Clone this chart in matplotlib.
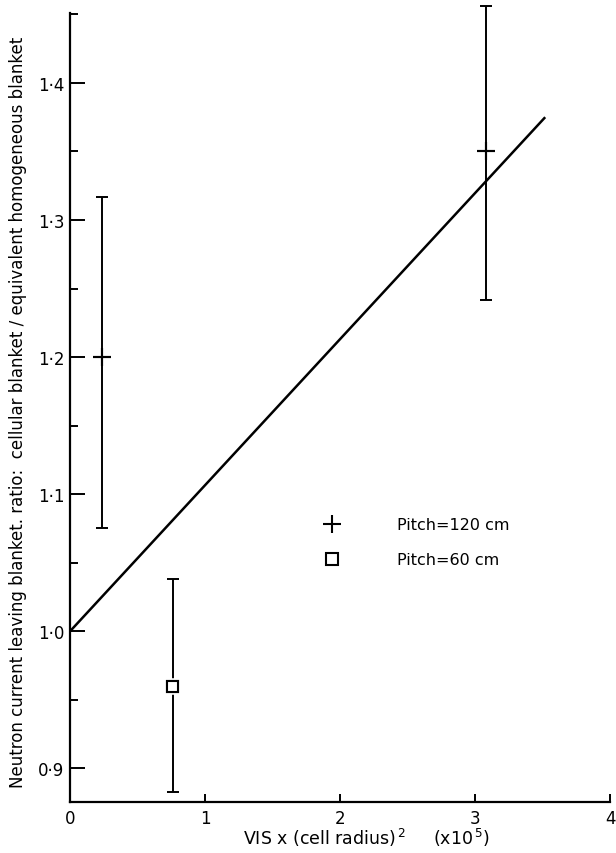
import matplotlib
matplotlib.use("Agg")
import matplotlib.pyplot as plt
import matplotlib.patheffects as pe
from matplotlib.ticker import FixedLocator, FixedFormatter
import numpy as np

# ---- data ----
pitch120_x = [0.24, 3.08]
pitch120_y = [1.200, 1.350]
pitch120_low = [1.075, 1.242]
pitch120_high = [1.317, 1.456]

pitch60_x = [0.76]
pitch60_y = [0.960]
pitch60_low = [0.883]
pitch60_high = [1.038]

fit_x = [0.0, 3.52]
fit_y = [1.000, 1.375]

x_ticks = [0, 1, 2, 3, 4]
x_ticklabels = ["0", "1", "2", "3", "4"]
y_ticks = [0.9, 1.0, 1.1, 1.2, 1.3, 1.4]
y_ticklabels = ["0·9", "1·0", "1·1", "1·2", "1·3", "1·4"]
y_minor = [0.95, 1.05, 1.15, 1.25, 1.35, 1.45]

legend_labels = ["Pitch=120 cm", "Pitch=60 cm"]

ylabel = "Neutron current leaving blanket. ratio:  cellular blanket / equivalent homogeneous blanket"
xlabel = r"VIS x (cell radius)$^{\,2}$     (x10$^{\,5}$)"

plt.rcParams['font.family'] = ['DejaVu Sans']

fig = plt.figure(figsize=(6.16, 8.54), dpi=100)
ax = fig.add_axes([70/616, 51/854, 540/616, 789/854])
ax.set_xlim(0, 4)
ax.set_ylim(0.8755, 1.451)

for s in ["top", "right"]:
    ax.spines[s].set_visible(False)
for s in ["left", "bottom"]:
    ax.spines[s].set_linewidth(1.6)

ax.xaxis.set_major_locator(FixedLocator(x_ticks))
ax.xaxis.set_major_formatter(FixedFormatter(x_ticklabels))
ax.yaxis.set_major_locator(FixedLocator(y_ticks))
ax.yaxis.set_major_formatter(FixedFormatter(y_ticklabels))
ax.yaxis.set_minor_locator(FixedLocator(y_minor))

ax.tick_params(axis='x', which='major', direction='in', length=6, width=1.4,
               labelsize=12, pad=5)
ax.tick_params(axis='y', which='major', direction='in', length=11, width=1.4,
               labelsize=12, pad=4)
ax.tick_params(axis='y', which='minor', direction='in', length=5.5, width=1.4)

# fit line
ax.plot(fit_x, fit_y, color='black', lw=1.8, solid_capstyle='butt', clip_on=False)

# error bars
def draw(xs, ys, lo, hi, marker, ms, mfc):
    ys = np.array(ys)
    yerr = [ys - np.array(lo), np.array(hi) - ys]
    ax.errorbar(xs, ys, yerr=yerr, fmt='none', ecolor='black', elinewidth=1.4,
                capsize=4.5, capthick=1.4, clip_on=False, zorder=3)
    ax.plot(xs, ys, linestyle='none', marker=marker, ms=ms, mfc=mfc,
            mec='black', mew=1.5, clip_on=False, zorder=4,
            path_effects=[pe.withStroke(linewidth=4, foreground='white'), pe.Normal()])

draw(pitch120_x, pitch120_y, pitch120_low, pitch120_high, '+', 13, 'black')
draw(pitch60_x, pitch60_y, pitch60_low, pitch60_high, 's', 8, 'white')

# legend (drawn manually)
ax.plot([1.94], [1.078], marker='+', ms=13, mew=1.5, color='black', linestyle='none')
ax.plot([1.94], [1.0525], marker='s', ms=8, mew=1.5, mfc='white', mec='black', linestyle='none')
ax.text(2.42, 1.078, legend_labels[0], fontsize=11.5, va='center', ha='left')
ax.text(2.42, 1.0525, legend_labels[1], fontsize=11.5, va='center', ha='left')

fig.text(18/616, 1 - 412/854, ylabel, rotation=90, ha='center', va='center', fontsize=12)
fig.text(243/616, 1 - 838/854, xlabel, ha='left', va='center', fontsize=12.5)

fig.savefig("out.png", dpi=100)
